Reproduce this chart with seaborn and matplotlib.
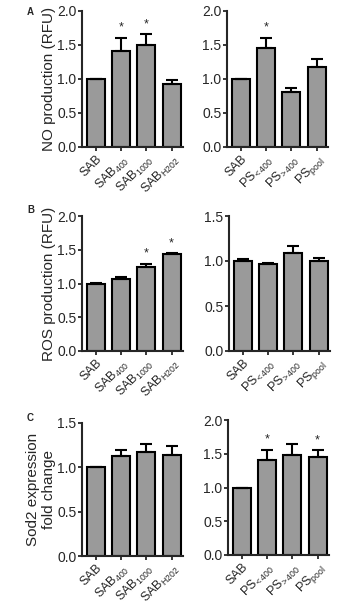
import matplotlib
matplotlib.use("Agg")
import matplotlib.pyplot as plt
import numpy as np
import pandas as pd
import seaborn as sns

sab_labels = ["SAB", r"SAB$_{\mathregular{400}}$", r"SAB$_{\mathregular{1000}}$", r"SAB$_{\mathregular{H202}}$"]
ps_labels = ["SAB", r"PS$_{\!\mathregular{{<}400}}$", r"PS$_{\!\mathregular{{>}400}}$", r"PS$_{\mathregular{pool}}$"]

no_sab = [1.00, 1.41, 1.50, 0.93]
no_sab_err = [0.0, 0.20, 0.16, 0.05]
no_sab_sig = [False, True, True, False]
no_ps = [1.00, 1.46, 0.81, 1.18]
no_ps_err = [0.0, 0.15, 0.06, 0.11]
no_ps_sig = [False, True, False, False]

ros_sab = [1.00, 1.07, 1.24, 1.44]
ros_sab_err = [0.01, 0.02, 0.05, 0.01]
ros_sab_sig = [False, False, True, True]
ros_ps = [1.00, 0.97, 1.09, 1.00]
ros_ps_err = [0.02, 0.01, 0.08, 0.03]
ros_ps_sig = [False, False, False, False]

sod_sab = [1.00, 1.13, 1.17, 1.14]
sod_sab_err = [0.0, 0.07, 0.09, 0.10]
sod_sab_sig = [False, False, False, False]
sod_ps = [1.00, 1.41, 1.48, 1.45]
sod_ps_err = [0.0, 0.15, 0.16, 0.10]
sod_ps_sig = [False, True, False, True]

sns.set_style("ticks")
plt.rcParams["font.family"] = ["Liberation Sans", "DejaVu Sans"]
plt.rcParams["mathtext.fontset"] = "custom"
plt.rcParams["mathtext.rm"] = "Liberation Sans"

fig = plt.figure(figsize=(3.52, 6.07), dpi=100)
W, H = 352, 607


def add_ax(x0, x1, ytop, ybot):
    return fig.add_axes([x0 / W, 1 - ybot / H, (x1 - x0) / W, (ybot - ytop) / H])


def panel(ax, labels, vals, errs, sig, ymax, ylabel=None):
    df = pd.DataFrame({"label": labels, "value": vals})
    sns.barplot(data=df, x="label", y="value", color="#9a9a9a", saturation=1,
                edgecolor="black", linewidth=1.5, width=0.72, ax=ax)
    x = np.arange(len(vals))
    ax.errorbar(x, vals, yerr=[np.zeros(len(errs)), errs], fmt="none",
                ecolor="black", elinewidth=1.5, capsize=4, capthick=1.5)
    for xi, v, e, s in zip(x, vals, errs, sig):
        if s:
            ax.text(xi, v + e + 0.03 * ymax, "*", ha="center", va="bottom", fontsize=9)
    ax.set_xlim(-0.55, 3.45)
    ax.set_ylim(0, ymax)
    ticks = np.arange(0, ymax + 0.01, 0.5)
    ax.set_yticks(ticks)
    ax.set_yticklabels([f"{t:.1f}" for t in ticks], fontsize=10)
    ax.set_xlabel("")
    ax.set_ylabel(ylabel if ylabel else "", fontsize=11, labelpad=1)
    ax.tick_params(axis="x", labelsize=9, length=3, width=1.3, pad=1)
    ax.tick_params(axis="y", length=3, width=1.3, pad=1)
    plt.setp(ax.get_xticklabels(), rotation=45, ha="right", rotation_mode="anchor")
    for s in ["left", "bottom"]:
        ax.spines[s].set_linewidth(1.5)
    sns.despine(ax=ax)


ax = add_ax(82, 183, 11, 147)
panel(ax, sab_labels, no_sab, no_sab_err, no_sab_sig, 2.0, "NO production (RFU)")
ax = add_ax(227, 328, 11, 147)
panel(ax, ps_labels, no_ps, no_ps_err, no_ps_sig, 2.0)

ax = add_ax(82, 183, 216, 351)
panel(ax, sab_labels, ros_sab, ros_sab_err, ros_sab_sig, 2.0, "ROS production (RFU)")
ax = add_ax(229, 330, 216, 351)
panel(ax, ps_labels, ros_ps, ros_ps_err, ros_ps_sig, 1.5)

ax = add_ax(82, 183, 423, 556)
panel(ax, sab_labels, sod_sab, sod_sab_err, sod_sab_sig, 1.5, "Sod2 expression\nfold change")
ax = add_ax(228, 329, 420, 555)
panel(ax, ps_labels, sod_ps, sod_ps_err, sod_ps_sig, 2.0)

for letter, y in [("A", 12), ("B", 210), ("C", 418)]:
    fig.text(27 / W, 1 - y / H, letter, fontsize=7, fontweight="bold", ha="left", va="center")

fig.savefig("out.png", dpi=100)
